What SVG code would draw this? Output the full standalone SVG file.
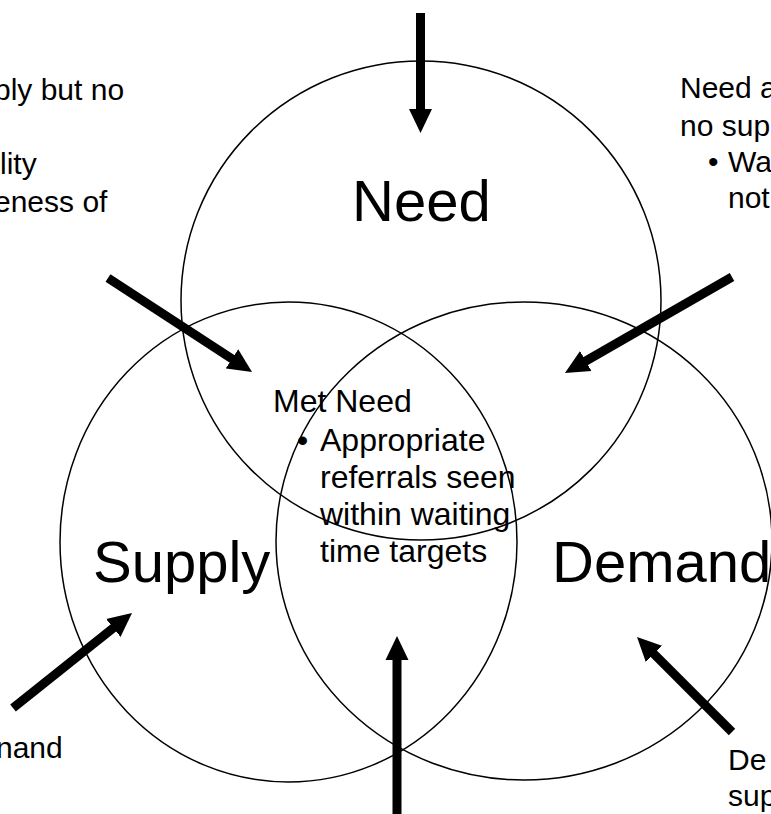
<svg xmlns="http://www.w3.org/2000/svg" width="771" height="814" viewBox="0 0 771 814">
<style>
.c{fill:none;stroke:#000;stroke-width:1.5}
.big{font-family:"Liberation Sans",Arial,sans-serif;font-size:58px;fill:#000}
.mid{font-family:"Liberation Sans",Arial,sans-serif;font-size:32px;fill:#000}
.sm{font-family:"Liberation Sans",Arial,sans-serif;font-size:30px;fill:#000}
.a{stroke:#000;stroke-width:9;fill:none;marker-end:url(#ah)}
</style>
<defs>
<marker id="ah" markerUnits="userSpaceOnUse" markerWidth="24" markerHeight="24" refX="10" refY="11.5" orient="auto" viewBox="0 0 24 23">
<path d="M0,0 L24,11.5 L0,23 z" fill="#000"/>
</marker>
</defs>
<rect width="771" height="814" fill="#fff"/>
<g id="need"><ellipse class="c" cx="421" cy="300.5" rx="240" ry="239.5"/><text class="big" x="352" y="221">Need</text></g>
<g id="supply"><ellipse class="c" cx="288.5" cy="542" rx="228.5" ry="240"/><text class="big" x="93" y="582">Supply</text></g>
<g id="demand"><ellipse class="c" cx="524" cy="541" rx="248" ry="239"/><text class="big" x="552" y="582">Demand</text></g>
<g id="met-need">
<text class="mid" x="273" y="412">Met Need</text>
<text class="mid" x="297" y="451">•</text>
<text class="mid" x="320" y="451">Appropriate</text>
<text class="mid" x="320" y="488">referrals seen</text>
<text class="mid" x="320" y="525">within waiting</text>
<text class="mid" x="320" y="562">time targets</text>
</g>
<g id="supply-no-need">
<text class="sm" x="-6" y="100">ply but no</text>
<text class="sm" x="0" y="174">lity</text>
<text class="sm" x="-6" y="212">eness of</text>
</g>
<g id="need-no-supply">
<text class="sm" x="680" y="98">Need a</text>
<text class="sm" x="680" y="136">no sup</text>
<text class="sm" x="708" y="172">•</text>
<text class="sm" x="728" y="172">Wa</text>
<text class="sm" x="728" y="208">not</text>
</g>
<g id="supply-demand"><text class="sm" x="-4" y="758">nand</text></g>
<g id="demand-supply"><text class="sm" x="728" y="770">De</text><text class="sm" x="728" y="806">sup</text></g>
<g id="connectors">
<line class="a" x1="420.5" y1="13" x2="420.5" y2="119"/>
<line class="a" x1="108" y1="278" x2="240.3" y2="364.3"/>
<line class="a" x1="732" y1="277" x2="577.1" y2="366"/>
<line class="a" x1="13" y1="708" x2="121.1" y2="621.7"/>
<line class="a" x1="397" y1="814" x2="397" y2="650"/>
<line class="a" x1="732" y1="732" x2="646.9" y2="646.9"/>
</g>
</svg>
